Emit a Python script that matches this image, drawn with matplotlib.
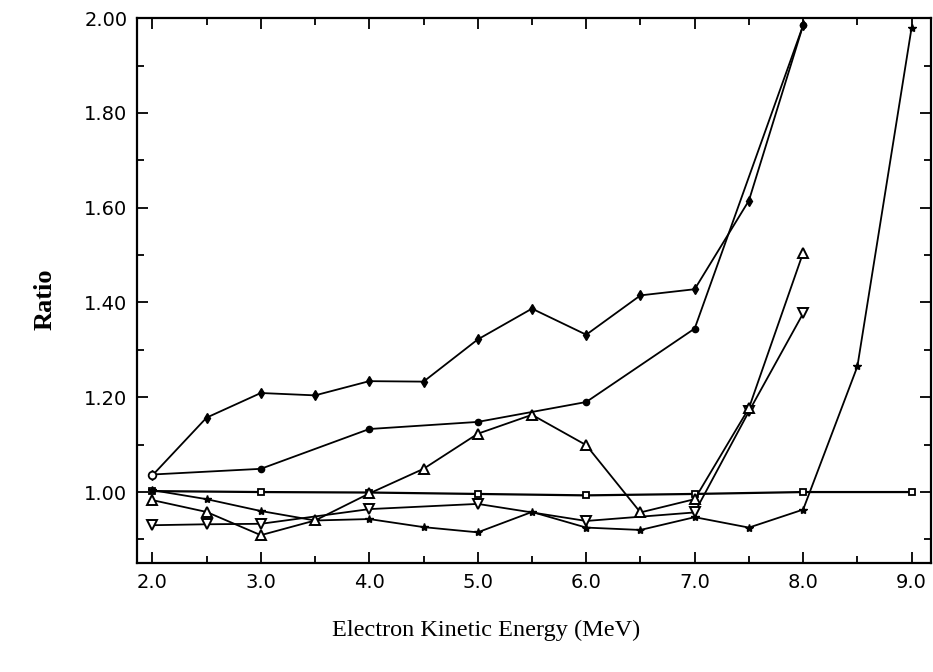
import numpy as np
import matplotlib
matplotlib.use("Agg")
import matplotlib.pyplot as plt
from matplotlib.ticker import MultipleLocator, FormatStrFormatter

# ratios, one list per curve
e_diamond = [2.0, 2.5, 3.0, 3.5, 4.0, 4.5, 5.0, 5.5, 6.0, 6.5, 7.0, 7.5, 8.0]
r_diamond = [1.035, 1.157, 1.209, 1.204, 1.234, 1.233, 1.322, 1.387, 1.332, 1.415, 1.428, 1.615, 1.985]

e_circle = [2.0, 3.0, 4.0, 5.0, 6.0, 7.0, 8.0]
r_circle = [1.037, 1.049, 1.133, 1.148, 1.190, 1.345, 1.985]

e_up = [2.0, 2.5, 3.0, 3.5, 4.0, 4.5, 5.0, 5.5, 6.0, 6.5, 7.0, 7.5, 8.0]
r_up = [0.983, 0.958, 0.909, 0.940, 0.997, 1.049, 1.123, 1.163, 1.099, 0.957, 0.985, 1.177, 1.505]

e_down = [2.0, 2.5, 3.0, 4.0, 5.0, 6.0, 7.0, 7.5, 8.0]
r_down = [0.930, 0.932, 0.933, 0.964, 0.975, 0.939, 0.957, 1.170, 1.377]

e_star = [2.0, 2.5, 3.0, 3.5, 4.0, 4.5, 5.0, 5.5, 6.0, 6.5, 7.0, 7.5, 8.0, 8.5, 9.0]
r_star = [1.004, 0.985, 0.960, 0.940, 0.943, 0.926, 0.915, 0.958, 0.925, 0.920, 0.947, 0.925, 0.963, 1.265, 1.98]

e_square = [2.0, 3.0, 4.0, 5.0, 6.0, 7.0, 8.0, 9.0]
r_square = [1.002, 1.000, 0.999, 0.996, 0.993, 0.996, 1.000, 1.000]

fig = plt.figure(figsize=(9.33, 6.72), dpi=100)
ax = fig.add_axes([0.147, 0.162, 0.851, 0.811])

lw = 1.3
ax.plot(e_square, r_square, color="black", lw=1.6, marker="s", ms=5,
        mfc="white", mec="black", mew=1.3)
ax.plot(e_star, r_star, color="black", lw=lw, marker="*", ms=6, mfc="black", mec="black")
ax.plot(e_down, r_down, color="black", lw=lw, marker="v", ms=7,
        mfc="white", mec="black", mew=1.4)
ax.plot(e_up, r_up, color="black", lw=lw, marker="^", ms=7,
        mfc="white", mec="black", mew=1.4)
ax.plot(e_circle, r_circle, color="black", lw=lw, marker="o", ms=4.5, mfc="black", mec="black")
ax.plot(e_diamond, r_diamond, color="black", lw=lw, marker="d", ms=5, mfc="black", mec="black")
# first point of the circle curve is drawn open
ax.plot(e_circle[0], r_circle[0], marker="o", ms=5.5, mfc="white", mec="black", mew=1.3)

ax.set_xlim(1.86, 9.18)
ax.set_ylim(0.85, 2.0)

ax.xaxis.set_major_locator(MultipleLocator(1.0))
ax.xaxis.set_minor_locator(MultipleLocator(0.5))
ax.yaxis.set_major_locator(MultipleLocator(0.2))
ax.yaxis.set_minor_locator(MultipleLocator(0.1))
ax.xaxis.set_major_formatter(FormatStrFormatter("%.1f"))
ax.yaxis.set_major_formatter(FormatStrFormatter("%.2f"))

ax.tick_params(which="both", direction="in", top=True, right=True, width=1.3,
               labelsize=14, colors="black")
ax.tick_params(which="major", length=8, pad=7)
ax.tick_params(which="minor", length=5)
for s in ax.spines.values():
    s.set_linewidth(1.6)

fig.text(0.048, 0.555, "Ratio", rotation=90, ha="center", va="center",
         family="Liberation Serif", fontweight="bold", fontsize=19)
fig.text(0.521, 0.062, "Electron Kinetic Energy (MeV)", ha="center", va="center",
         family="Liberation Serif", fontsize=17.5)

fig.savefig("out.png", dpi=100)
